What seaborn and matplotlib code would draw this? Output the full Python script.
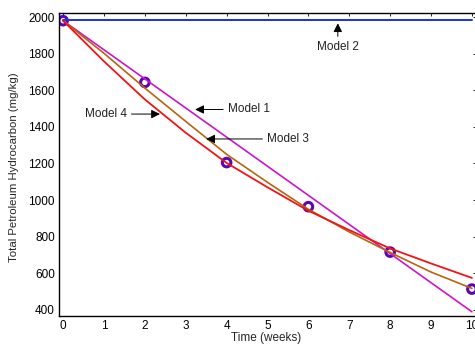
import seaborn as sns
import matplotlib.pyplot as plt
import numpy as np
import pandas as pd

sns.set_theme(style="white")
plt.rcParams["font.family"] = ["Liberation Sans", "DejaVu Sans"]

# values
weeks = [0, 1, 2, 3, 4, 5, 6, 7, 8, 9, 10]
obs_weeks = [0, 2, 4, 6, 8, 10]
obs_tph = [1980, 1643, 1205, 964, 716, 514]

model1 = [1980, 1821, 1662, 1503, 1344, 1185, 1026, 867, 708, 549, 390]
model2 = [1982, 1982, 1982, 1982, 1982, 1982, 1982, 1982, 1982, 1982, 1982]
model3 = [1980, 1802, 1612, 1430, 1250, 1097, 950, 826, 714, 607, 518]
model4 = [1980, 1758, 1550, 1368, 1203, 1070, 942, 836, 736, 654, 575]

xticks = [0, 1, 2, 3, 4, 5, 6, 7, 8, 9, 10]
yticks = [400, 600, 800, 1000, 1200, 1400, 1600, 1800, 2000]

fs = 8.5

fig = plt.figure(figsize=(4.75, 3.47), dpi=100)
ax = fig.add_axes([59 / 475, 31 / 347, 417 / 475, 303 / 347])

sns.scatterplot(x=obs_weeks, y=obs_tph, ax=ax, marker="o", s=38,
                facecolors="none", edgecolor="#5a06b4", linewidth=2.2, zorder=2)

sns.lineplot(x=weeks, y=model1, ax=ax, color="#cc14cc", lw=1.2, zorder=3)
sns.lineplot(x=weeks, y=model2, ax=ax, color="#1432f0", lw=1.4, zorder=3)
sns.lineplot(x=weeks, y=model3, ax=ax, color="#b8640f", lw=1.2, zorder=3)
sns.lineplot(x=weeks, y=model4, ax=ax, color="#f01414", lw=1.3, zorder=3)

arrow = dict(arrowstyle="-|>", color="black", lw=0.7, mutation_scale=13,
             shrinkA=1, shrinkB=0)
tcol = "#222222"
ax.annotate("Model 4", xy=(2.37, 1470), xytext=(1.56, 1470), ha="right",
            va="center", fontsize=fs, color=tcol, arrowprops=arrow)
ax.annotate("Model 1", xy=(3.23, 1495), xytext=(4.03, 1495), ha="left",
            va="center", fontsize=fs, color=tcol, arrowprops=arrow)
ax.annotate("Model 3", xy=(3.50, 1334), xytext=(4.99, 1334), ha="left",
            va="center", fontsize=fs, color=tcol, arrowprops=arrow)
ax.annotate("Model 2", xy=(6.72, 1966), xytext=(6.72, 1836), ha="center",
            va="center", fontsize=fs, color=tcol, arrowprops=arrow)

ax.set_xlim(-0.1, 10.1)
ax.set_ylim(367, 2022)
ax.set_xticks(xticks)
ax.set_yticks(yticks)
ax.tick_params(direction="in", top=True, right=True, length=2.5, width=0.6,
               labelsize=fs, colors="black", pad=3)
for s in ax.spines.values():
    s.set_color("black")
    s.set_linewidth(1.0)
ax.grid(False)

ax.set_xlabel("Time (weeks)", fontsize=fs)
ax.set_ylabel("Total Petroleum Hydrocarbon (mg/kg)", fontsize=8.2)
ax.xaxis.set_label_coords(0.496, -0.052)
ax.yaxis.set_label_coords(-0.097, 0.49)

fig.savefig("out.png", dpi=100)
